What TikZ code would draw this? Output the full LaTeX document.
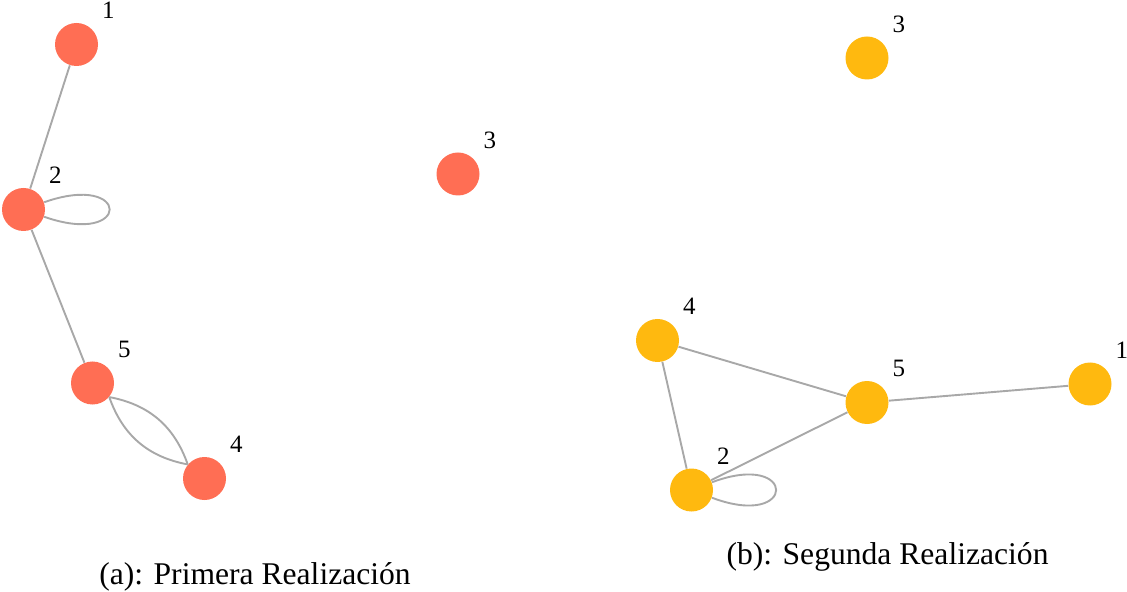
\documentclass[tikz,border=0pt]{standalone}
\usepackage{fontspec}
\setmainfont{Liberation Serif}
\usepackage{xcolor}
\usepackage{tikz}

\definecolor{vtxred}{RGB}{255,110,84}
\definecolor{vtxgold}{RGB}{255,185,15}
\definecolor{lnkgray}{RGB}{168,168,168}

\tikzset{
  vtx/.style={circle, minimum size=21.5pt, inner sep=0pt},
  redvtx/.style={vtx, fill=vtxred},
  goldvtx/.style={vtx, fill=vtxgold},
  numlbl/.style={font=\fontsize{12.5}{13}\selectfont, inner sep=1pt, label distance=5.5pt},
  lnk/.style={draw=lnkgray, line width=0.95pt},
  captxt/.style={font=\fontsize{15.8}{18}\selectfont}
}

\begin{document}
\begin{tikzpicture}[x=0.5pt, y=-0.5pt]

  \useasboundingbox (0,0) rectangle (1127,592);

  % Define nodes (a)
  \node[redvtx, label={[numlbl]45:1}] (a1) at (76.5,44.5) {};
  \node[redvtx, label={[numlbl]45:2}] (a2) at (23.5,209.5) {};
  \node[redvtx, label={[numlbl]45:3}] (a3) at (458,174) {};
  \node[redvtx, label={[numlbl]45:5}] (a5) at (92.5,383) {};
  \node[redvtx, label={[numlbl]45:4}] (a4) at (204.5,478.5) {};

  % Define nodes (b)
  \node[goldvtx, label={[numlbl]45:3}] (b3) at (867,58) {};
  \node[goldvtx, label={[numlbl]45:4}] (b4) at (657.5,340.5) {};
  \node[goldvtx, label={[numlbl]45:5}] (b5) at (867,402.5) {};
  \node[goldvtx, label={[numlbl]45:1}] (b1) at (1090,384) {};
  \node[goldvtx, label={[numlbl]45:2}] (b2) at (691.5,490) {};

  % Connect nodes (a)
  \draw[lnk] (a1) -- (a2);
  \draw[lnk] (a2) -- (a5);
  \draw[lnk] (a5.-40) to[bend left=30] (a4.140);
  \draw[lnk] (a5.-40) to[bend right=30] (a4.140);
  \draw[lnk] (a2) .. controls +(108,-38) and +(108,38) .. (a2);

  % Connect nodes (b)
  \draw[lnk] (b4) -- (b5);
  \draw[lnk] (b4) -- (b2);
  \draw[lnk] (b2) -- (b5);
  \draw[lnk] (b5) -- (b1);
  \draw[lnk] (b2) .. controls +(106,-40) and +(106,40) .. (b2);

  % Captions
  \node[captxt] (capA) at (255,577) {(a): Primera Realización};
  \node[captxt] (capB) at (887.5,557) {(b): Segunda Realización};

\end{tikzpicture}
\end{document}
